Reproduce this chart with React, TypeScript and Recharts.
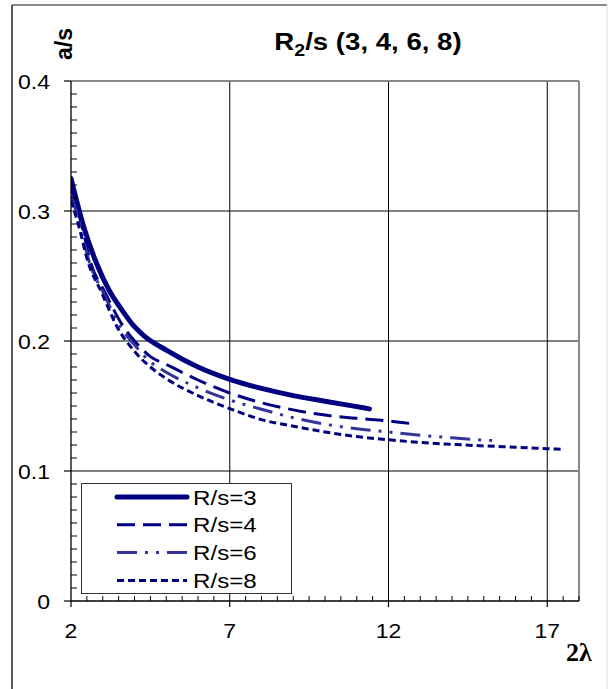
import React from 'react';
import { LineChart, Line, XAxis, YAxis, CartesianGrid, ReferenceLine } from 'recharts';

// values (x = 2λ, y = a/s)
const lambdaR3 = [2, 2.4, 2.8, 3.2, 3.6, 4, 4.3, 5, 6, 7, 8, 9, 10, 11, 11.4];
const aR3 = [0.325, 0.288, 0.26, 0.239, 0.224, 0.211, 0.204, 0.193, 0.18, 0.1705, 0.1635, 0.158, 0.1537, 0.1495, 0.1478];

const lambdaR4 = [2, 2.35, 2.6, 3.08, 3.65, 4, 4.5, 5, 6, 7, 8, 9, 10, 11, 12, 12.85];
const aR4 = [0.318, 0.288, 0.262, 0.237, 0.211, 0.2, 0.188, 0.182, 0.17, 0.16, 0.1525, 0.147, 0.143, 0.1405, 0.1385, 0.136];

const lambdaR6 = [2, 2.3, 2.56, 3.02, 3.55, 4, 4.5, 5, 6, 7, 8, 9, 10, 11, 12, 13, 14, 15, 15.36];
const aR6 = [0.312, 0.288, 0.262, 0.237, 0.211, 0.197, 0.184, 0.176, 0.164, 0.1546, 0.1475, 0.141, 0.136, 0.1325, 0.13, 0.1275, 0.1255, 0.1238, 0.1233];

const lambdaR8 = [2, 2.25, 2.52, 2.97, 3.45, 4, 4.5, 5, 6, 7, 8, 9, 10, 11, 12, 13, 14, 15, 16, 17, 17.45];
const aR8 = [0.308, 0.288, 0.262, 0.237, 0.211, 0.192, 0.18, 0.171, 0.158, 0.148, 0.1395, 0.1345, 0.13, 0.1265, 0.124, 0.122, 0.1205, 0.1193, 0.1183, 0.1172, 0.1167];

const xLabels = [2, 7, 12, 17];
const yLabels = [0, 0.1, 0.2, 0.3, 0.4];
const xMinor = Array.from({ length: 33 }, (_, i) => 2 + i * 0.5);
const yMinor = Array.from({ length: 41 }, (_, i) => i / 100);

const toRows = (xs: number[], ys: number[]) => xs.map((x, i) => ({ x, y: ys[i] }));

const series = [
  { name: 'R/s=3', data: toRows(lambdaR3, aR3), color: '#000080', width: 5, dash: undefined, cap: 'round' },
  { name: 'R/s=4', data: toRows(lambdaR4, aR4), color: '#000080', width: 3, dash: '18 8', cap: 'butt' },
  { name: 'R/s=6', data: toRows(lambdaR6, aR6), color: '#333399', width: 3, dash: '20 8 3 8 3 8', cap: 'butt' },
  { name: 'R/s=8', data: toRows(lambdaR8, aR8), color: '#000080', width: 3, dash: '7 4', cap: 'butt' },
];

const font = '"Liberation Sans", Arial, sans-serif';

// the original picture is a bit wider than tall, so text gets a horizontal stretch
const Wide = ({ x, y, anchor = 'start', size, weight = 'normal', children }: any) => (
  <g transform={`translate(${x},${y}) scale(1.15,1)`}>
    <text x={0} y={0} textAnchor={anchor} fontFamily={font} fontSize={size} fontWeight={weight} fill="#000">
      {children}
    </text>
  </g>
);

const XTick = (props: any) => {
  const { x, y, payload } = props;
  const v = payload.value;
  const major = xLabels.some((m) => Math.abs(m - v) < 1e-6);
  if (!major) return <line x1={x} x2={x} y1={y - 5} y2={y} stroke="#000" strokeWidth={1} />;
  return (
    <g>
      <line x1={x} x2={x} y1={y} y2={y + 6} stroke="#000" strokeWidth={1.2} />
      <Wide x={x} y={y + 37} anchor="middle" size={20}>
        {v}
      </Wide>
    </g>
  );
};

const YTick = (props: any) => {
  const { x, y, payload } = props;
  const v = payload.value;
  const major = yLabels.some((m) => Math.abs(m - v) < 1e-6);
  if (!major) return <line x1={x} x2={x + 6} y1={y} y2={y} stroke="#000" strokeWidth={1} />;
  return (
    <g>
      <line x1={x - 7} x2={x} y1={y} y2={y} stroke="#000" strokeWidth={1.2} />
      <Wide x={x - 21} y={y + 7.5} anchor="end" size={20}>
        {v}
      </Wide>
    </g>
  );
};

const Legendbox = () => (
  <div
    style={{
      position: 'absolute',
      left: 81,
      top: 483,
      width: 209,
      height: 109,
      border: '1px solid #333',
      background: '#fff',
    }}
  >
    <svg width={209} height={109}>
      {series.map((s, i) => {
        const cy = 13 + i * 27.8;
        return (
          <g key={s.name}>
            <line
              x1={35}
              x2={105}
              y1={cy}
              y2={cy}
              stroke={s.color}
              strokeWidth={s.width}
              strokeDasharray={s.dash}
              strokeLinecap={s.cap as any}
            />
            <Wide x={111} y={cy + 7.5} size={21}>
              {s.name}
            </Wide>
          </g>
        );
      })}
    </svg>
  </div>
);

export default function App() {
  return (
    <div style={{ position: 'absolute', left: 0, top: 0, width: 608, height: 689, background: '#fff' }}>
      <LineChart width={608} height={689} margin={{ top: 81, right: 29, bottom: 48, left: 16 }}>
        <CartesianGrid
          stroke="#000"
          strokeWidth={1}
          horizontalValues={[0.1, 0.2, 0.3]}
          verticalValues={[7, 12, 17]}
        />
        <XAxis
          dataKey="x"
          type="number"
          domain={[2, 18]}
          ticks={xMinor}
          interval={0}
          allowDataOverflow
          height={40}
          tickSize={0}
          tickMargin={0}
          tickLine={false}
          tick={(p: any) => <XTick {...p} />}
          axisLine={{ stroke: '#000', strokeWidth: 1.3 }}
        />
        <YAxis
          type="number"
          domain={[0, 0.4]}
          ticks={yMinor}
          interval={0}
          allowDataOverflow
          width={55}
          tickSize={0}
          tickMargin={0}
          tickLine={false}
          tick={(p: any) => <YTick {...p} />}
          axisLine={{ stroke: '#000', strokeWidth: 1.3 }}
        />
        <ReferenceLine y={0.4} stroke="#888" strokeWidth={2} />
        <ReferenceLine x={18} stroke="#888" strokeWidth={2} />
        {series.map((s) => (
          <Line
            key={s.name}
            data={s.data}
            dataKey="y"
            name={s.name}
            type="monotone"
            stroke={s.color}
            strokeWidth={s.width}
            strokeDasharray={s.dash}
            strokeLinecap={s.cap as any}
            dot={false}
            activeDot={false}
            isAnimationActive={false}
          />
        ))}
      </LineChart>
      <svg
        width={608}
        height={689}
        style={{ position: 'absolute', left: 0, top: 0, pointerEvents: 'none' }}
      >
        <line x1={12} x2={607} y1={5} y2={5} stroke="#666" strokeWidth={1.5} />
        <line x1={12} x2={12} y1={5} y2={689} stroke="#222" strokeWidth={1.5} />
        <line x1={607} x2={607} y1={5} y2={689} stroke="#ddd" strokeWidth={1} />
        <Wide x={368} y={50} anchor="middle" size={24} weight="bold">
          R<tspan dy={6} fontSize={17}>2</tspan>
          <tspan dy={-6}>/s (3, 4, 6, 8)</tspan>
        </Wide>
        <text
          transform="translate(72,44) rotate(-90)"
          textAnchor="middle"
          fontFamily={font}
          fontWeight="bold"
          fontSize={23}
          fill="#000"
        >
          a/s
        </text>
        <text x={566} y={661} fontFamily='"Liberation Serif", "Times New Roman", serif' fontWeight="bold" fontSize={26} fill="#000">
          2λ
        </text>
      </svg>
      <Legendbox />
    </div>
  );
}
